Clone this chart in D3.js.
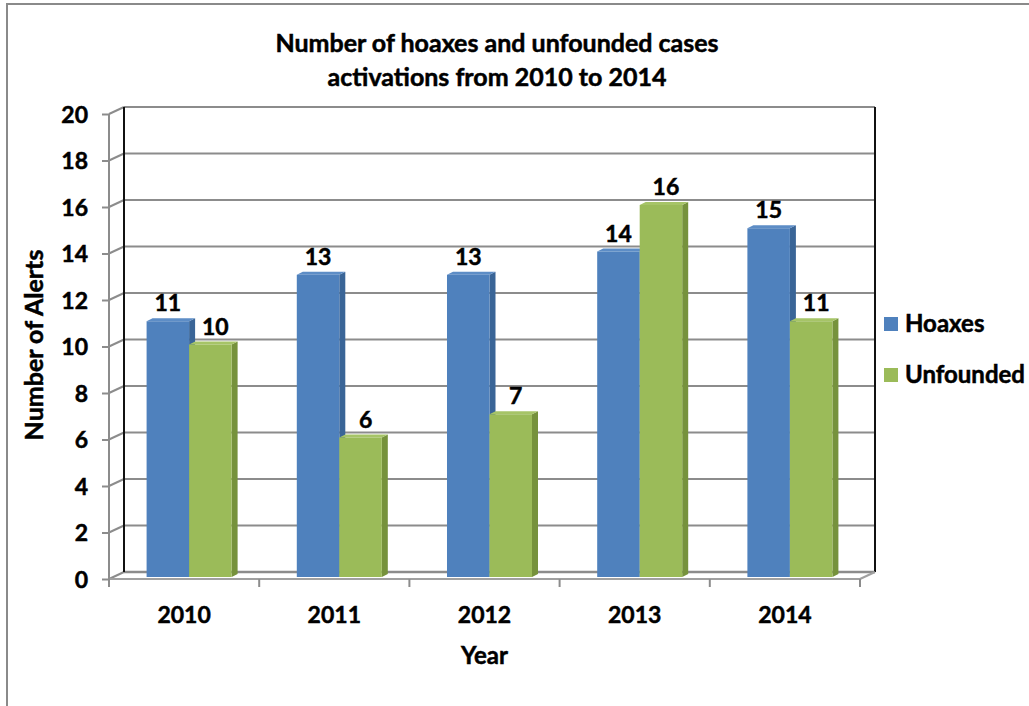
<!DOCTYPE html>
<html>
<head>
<meta charset="utf-8">
<script src="https://cdn.jsdelivr.net/npm/d3@7"></script>
<style>
  body { margin: 0; background: #fff; }
  svg text { font-family: Lato, "Open Sans", sans-serif; font-weight: 700; fill: #000; stroke: #000; stroke-width: 0.5px; }
</style>
</head>
<body>
<div id="chart"></div>
<script>
// Data
const years = ['2010', '2011', '2012', '2013', '2014'];
const seriesNames = ['Hoaxes', 'Unfounded'];
const hoaxes = [11, 13, 13, 14, 15];
const unfounded = [10, 6, 7, 16, 11];
const yTicks = [0, 2, 4, 6, 8, 10, 12, 14, 16, 18, 20];

const colors = { Hoaxes: '#4f81bd', Unfounded: '#9bbb59' };
const sideColors = { Hoaxes: '#3a6597', Unfounded: '#76923c' };
const topColors = { Hoaxes: '#5d8dc6', Unfounded: '#a6c467' };

const W = 1029, H = 706;
const svg = d3.select('#chart').append('svg').attr('width', W).attr('height', H);

// chart area border (right/bottom edges fall outside the picture)
svg.append('rect')
    .attr('x', 7).attr('y', 4).attr('width', 1100).attr('height', 800)
    .attr('fill', 'none').attr('stroke', '#8a8a8a').attr('stroke-width', 2);

// Front plane of the 3D box and wall depth offset
const front = { left: 109, right: 860, bottom: 579, top: 114 };
const depth = { dx: 15, dy: -7 };

const x = d3.scaleBand().domain(years).range([front.left, front.right]);
const y = d3.scaleLinear().domain([0, 20]).range([front.bottom, front.top]);
const xs = d3.scaleBand().domain(seriesNames)
    .range([x.bandwidth() * 0.217, x.bandwidth() * 0.783]);

const g = svg.append('g');
const grid = '#8c8c8c';

// back wall gridlines
g.selectAll('.grid-back')
    .data(yTicks)
    .enter().append('line')
    .attr('x1', front.left + depth.dx).attr('x2', front.right + depth.dx)
    .attr('y1', d => y(d) + depth.dy).attr('y2', d => y(d) + depth.dy)
    .attr('stroke', grid).attr('stroke-width', d => d === 0 ? 2.5 : 2);

// side wall diagonals
g.selectAll('.grid-side')
    .data(yTicks)
    .enter().append('line')
    .attr('x1', front.left).attr('x2', front.left + depth.dx)
    .attr('y1', d => y(d)).attr('y2', d => y(d) + depth.dy)
    .attr('stroke', grid).attr('stroke-width', 2);

// back wall vertical edges
[front.left + depth.dx, front.right + depth.dx].forEach(xx => {
    g.append('line')
        .attr('x1', xx).attr('x2', xx)
        .attr('y1', y(20) + depth.dy).attr('y2', y(0) + depth.dy)
        .attr('stroke', '#111').attr('stroke-width', 2);
});

// floor front edge + right diagonal
g.append('line')
    .attr('x1', front.left).attr('x2', front.right)
    .attr('y1', y(0)).attr('y2', y(0))
    .attr('stroke', '#a0a0a0').attr('stroke-width', 2);
g.append('line')
    .attr('x1', front.right).attr('x2', front.right + depth.dx)
    .attr('y1', y(0)).attr('y2', y(0) + depth.dy)
    .attr('stroke', '#a0a0a0').attr('stroke-width', 2);

// front vertical axis + ticks
g.append('line')
    .attr('x1', front.left).attr('x2', front.left)
    .attr('y1', y(20)).attr('y2', y(0))
    .attr('stroke', grid).attr('stroke-width', 2);

const yAxis = d3.axisLeft(y).tickValues(yTicks).tickSize(7);
const yAxisG = g.append('g')
    .attr('transform', `translate(${front.left},0)`)
    .call(yAxis);
yAxisG.select('.domain').remove();
yAxisG.selectAll('.tick line').attr('stroke', grid).attr('stroke-width', 2);
yAxisG.selectAll('.tick text')
    .attr('fill', '#000').style('font-size', '23px').attr('dy', '0.36em')
    .attr('x', -21);

// x axis ticks at band edges
const xEdges = years.map(d => x(d)).concat([front.right]);
g.selectAll('.x-tick')
    .data(xEdges)
    .enter().append('line')
    .attr('x1', d => d).attr('x2', d => d)
    .attr('y1', y(0)).attr('y2', y(0) + 8)
    .attr('stroke', grid).attr('stroke-width', 2);

g.selectAll('.x-label')
    .data(years)
    .enter().append('text')
    .attr('x', d => x(d) + x.bandwidth() / 2)
    .attr('y', 623)
    .attr('text-anchor', 'middle')
    .style('font-size', '23px')
    .text(d => d);

// bars (3D columns)
const barBase = front.bottom - 2;
const barShift = 5;
const bd = { dx: 6, dy: -3 };
const yb = d3.scaleLinear().domain([0, 20]).range([barBase, barBase - (front.bottom - front.top)]);

const barData = [];
years.forEach((yr, i) => {
    barData.push({ year: yr, series: 'Hoaxes', value: hoaxes[i] });
    barData.push({ year: yr, series: 'Unfounded', value: unfounded[i] });
});

const bars = g.selectAll('.bar')
    .data(barData)
    .enter().append('g')
    .attr('class', 'bar');

bars.each(function(d) {
    const sel = d3.select(this);
    const x0 = x(d.year) + xs(d.series) + barShift;
    const w = xs.bandwidth();
    const top = yb(d.value);
    // side face
    sel.append('path')
        .attr('d', `M${x0 + w},${top} L${x0 + w + bd.dx},${top + bd.dy} L${x0 + w + bd.dx},${barBase + bd.dy} L${x0 + w},${barBase} Z`)
        .attr('fill', sideColors[d.series]);
    // top face
    sel.append('path')
        .attr('d', `M${x0},${top} L${x0 + bd.dx},${top + bd.dy} L${x0 + w + bd.dx},${top + bd.dy} L${x0 + w},${top} Z`)
        .attr('fill', topColors[d.series]);
    // front face
    sel.append('rect')
        .attr('x', x0).attr('y', top)
        .attr('width', w).attr('height', barBase - top)
        .attr('fill', colors[d.series]);
});

// value labels
g.selectAll('.bar-label')
    .data(barData)
    .enter().append('text')
    .attr('x', d => x(d.year) + xs(d.series) + barShift + xs.bandwidth() / 2 + (d.series === 'Unfounded' ? 5 : 0))
    .attr('y', d => yb(d.value) - 10)
    .attr('text-anchor', 'middle')
    .style('font-size', '23px')
    .text(d => d.value);

// title
const title = svg.append('text')
    .attr('x', 497)
    .attr('text-anchor', 'middle')
    .style('font-size', '25px');
title.append('tspan').attr('x', 497).attr('y', 52).text('Number of hoaxes and unfounded cases');
title.append('tspan').attr('x', 497).attr('y', 86).text('activations from 2010 to 2014');

// axis titles
svg.append('text')
    .attr('x', 484.5).attr('y', 664)
    .attr('text-anchor', 'middle')
    .style('font-size', '24px')
    .text('Year');

svg.append('text')
    .attr('transform', 'translate(43,345) rotate(-90)')
    .attr('text-anchor', 'middle')
    .style('font-size', '25px')
    .text('Number of Alerts');

// legend
const legend = svg.append('g').attr('transform', 'translate(884,317)');
seriesNames.forEach((s, i) => {
    const row = legend.append('g').attr('transform', `translate(0,${i * 51})`);
    row.append('rect').attr('width', 14).attr('height', 14).attr('fill', colors[s]);
    row.append('text').attr('x', 21).attr('y', 15).style('font-size', '24px').text(s);
});
</script>
</body>
</html>
